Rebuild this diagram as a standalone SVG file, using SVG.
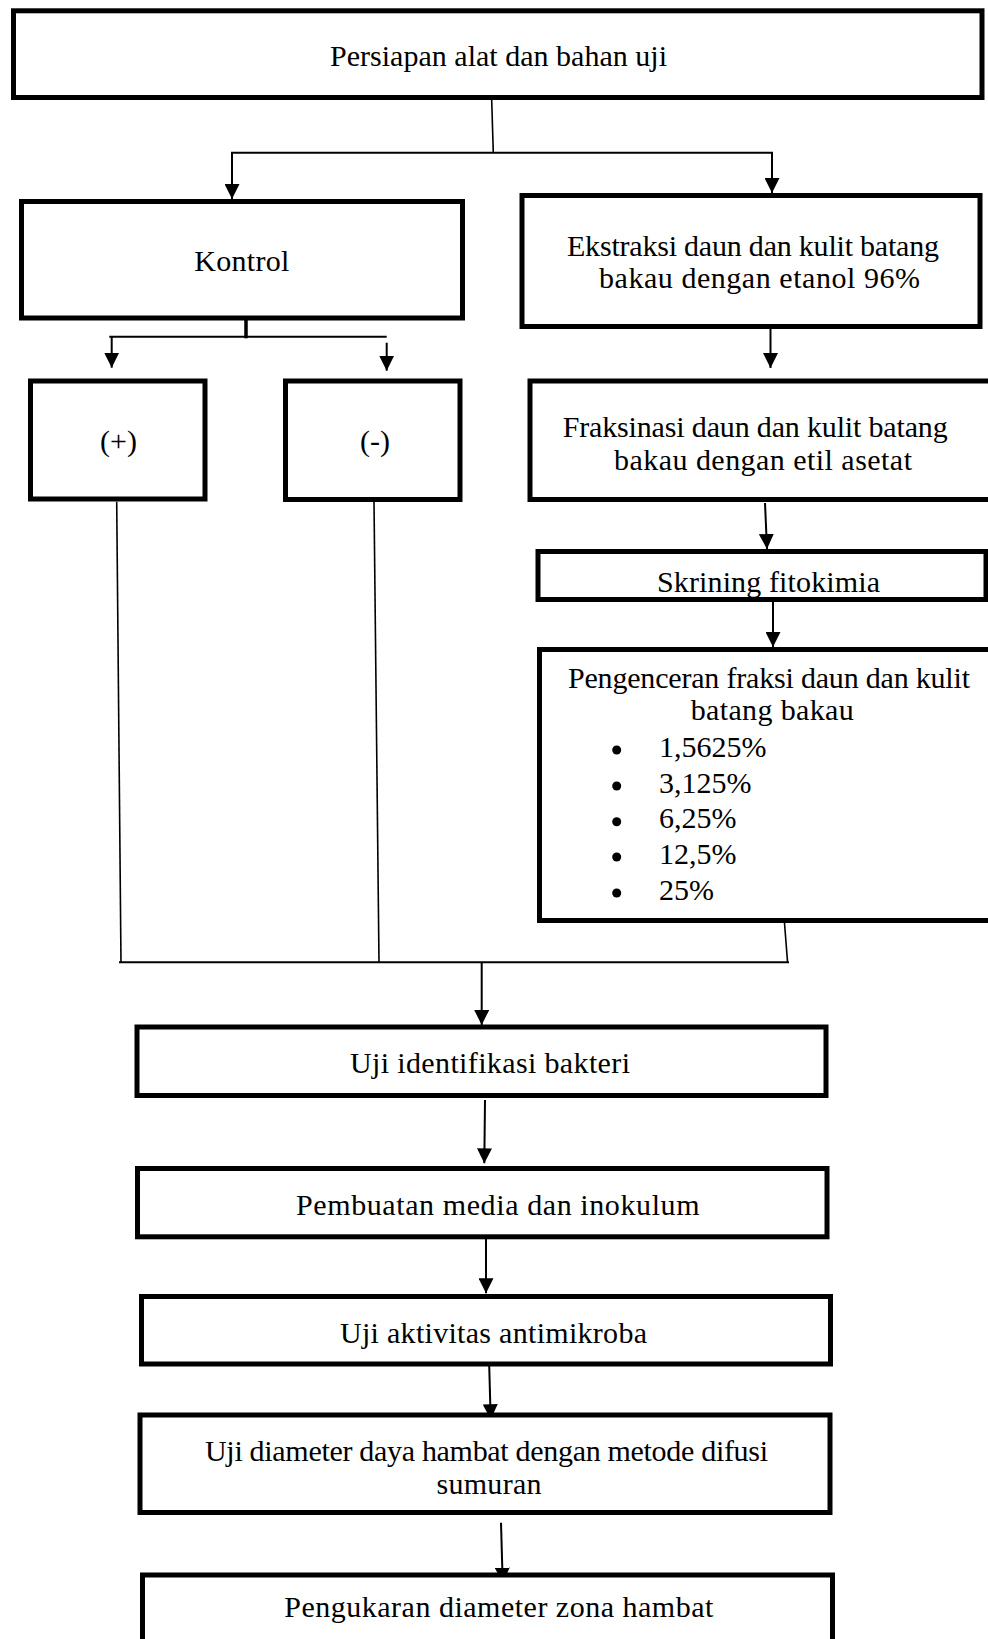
<svg xmlns="http://www.w3.org/2000/svg" width="988" height="1639" viewBox="0 0 988 1639">
<style>
.box{fill:#fff;stroke:#000;stroke-width:5}
.t{font-family:"Liberation Serif","Times New Roman",serif;font-size:30px;fill:#000}
.c{fill:none;stroke:#000;stroke-width:2}
.thin{fill:none;stroke:#000;stroke-width:1.6}
.arr{fill:none;stroke:#000;stroke-width:2;marker-end:url(#ah)}
</style>
<defs>
<marker id="ah" viewBox="0 0 15 15" markerWidth="15" markerHeight="15" refX="15" refY="7.5" orient="auto" markerUnits="userSpaceOnUse">
<path d="M0,0 L15,7.5 L0,15 z" fill="#000"/>
</marker>
</defs>
<rect width="988" height="1639" fill="#fff"/>

<g id="connectors">
<line class="thin" x1="491.7" y1="100" x2="493.3" y2="153"/>
<line class="c" x1="231" y1="152.7" x2="773" y2="152.7"/>
<line class="arr" x1="232" y1="152.7" x2="232" y2="199"/>
<line class="arr" x1="772" y1="152.7" x2="772" y2="193"/>
<line class="c" x1="246" y1="311" x2="246" y2="338.3" style="stroke-width:3.5"/>
<line class="c" x1="109.3" y1="336.7" x2="386.7" y2="336.7"/>
<line class="arr" x1="111.7" y1="336.7" x2="111.7" y2="367.7"/>
<line class="arr" x1="386.7" y1="342.7" x2="386.7" y2="370.7"/>
<line class="arr" x1="770.5" y1="318" x2="770.5" y2="368"/>
<line class="arr" x1="765" y1="503" x2="767" y2="549"/>
<line class="arr" x1="773" y1="602" x2="773" y2="647"/>
<line class="thin" x1="116.7" y1="501.7" x2="121" y2="962.3"/>
<line class="thin" x1="374" y1="501.7" x2="379" y2="962.3"/>
<line class="thin" x1="784.5" y1="923" x2="787.6" y2="962.7"/>
<line class="c" x1="119" y1="962.3" x2="789" y2="962.3"/>
<line class="arr" x1="481.7" y1="962.3" x2="481.7" y2="1025"/>
<line class="arr" x1="485" y1="1100" x2="484.3" y2="1163.3"/>
<line class="arr" x1="486" y1="1231" x2="486" y2="1293.3"/>
<line class="arr" x1="489" y1="1358.3" x2="490.7" y2="1419.3"/>
<line class="arr" x1="501" y1="1522.7" x2="502.7" y2="1582.7"/>
</g>

<g id="n-persiapan">
<rect class="box" x="13.5" y="10.8" width="968.5" height="86.7"/>
<text class="t" x="330" y="66" textLength="337">Persiapan alat dan bahan uji</text>
</g>

<g id="n-kontrol">
<rect class="box" x="21.5" y="201.5" width="441" height="116.5"/>
<text class="t" x="194.3" y="270.7" textLength="95">Kontrol</text>
</g>

<g id="n-ekstraksi">
<rect class="box" x="522" y="195.5" width="458" height="131"/>
<text class="t" x="567" y="256" textLength="372">Ekstraksi daun dan kulit batang</text>
<text class="t" x="599" y="288" textLength="321">bakau dengan etanol 96%</text>
</g>

<g id="n-plus">
<rect class="box" x="30.5" y="381" width="174.5" height="118"/>
<text class="t" x="100" y="451">(+)</text>
</g>

<g id="n-minus">
<rect class="box" x="285.5" y="381" width="174.5" height="118.5"/>
<text class="t" x="360" y="451">(-)</text>
</g>

<g id="n-fraksinasi">
<rect class="box" x="530" y="381" width="470" height="118.5"/>
<text class="t" x="562.7" y="436.7" textLength="385">Fraksinasi daun dan kulit batang</text>
<text class="t" x="614" y="470" textLength="298">bakau dengan etil asetat</text>
</g>

<g id="n-skrining">
<rect class="box" x="538" y="551.5" width="448" height="48"/>
<text class="t" x="657" y="592" textLength="223">Skrining fitokimia</text>
</g>

<g id="n-pengenceran">
<rect class="box" x="539.5" y="649.5" width="460" height="271"/>
<text class="t" x="568" y="688" textLength="402">Pengenceran fraksi daun dan kulit</text>
<text class="t" x="690.7" y="720" textLength="163">batang bakau</text>
<circle cx="616.7" cy="750" r="4.5"/>
<circle cx="616.7" cy="786" r="4.5"/>
<circle cx="616.7" cy="821.7" r="4.5"/>
<circle cx="616.7" cy="857" r="4.5"/>
<circle cx="616.7" cy="893" r="4.5"/>
<text class="t" x="659" y="756.7">1,5625%</text>
<text class="t" x="659" y="792.7">3,125%</text>
<text class="t" x="659" y="828">6,25%</text>
<text class="t" x="659" y="864">12,5%</text>
<text class="t" x="659" y="900">25%</text>
</g>

<g id="n-identifikasi">
<rect class="box" x="137" y="1027" width="689" height="68.5"/>
<text class="t" x="350" y="1072.7" textLength="280">Uji identifikasi bakteri</text>
</g>

<g id="n-pembuatan">
<rect class="box" x="137.5" y="1168.5" width="689.5" height="68.3"/>
<text class="t" x="296" y="1215" textLength="403.5">Pembuatan media dan inokulum</text>
</g>

<g id="n-aktivitas">
<rect class="box" x="141.5" y="1296.5" width="689" height="67.5"/>
<text class="t" x="340" y="1343.3" textLength="307">Uji aktivitas antimikroba</text>
</g>

<g id="n-diameter">
<rect class="box" x="140" y="1415" width="690" height="97.5"/>
<text class="t" x="205" y="1461" textLength="563">Uji diameter daya hambat dengan metode difusi</text>
<text class="t" x="436.5" y="1494.3" textLength="105">sumuran</text>
</g>

<g id="n-pengukaran">
<rect class="box" x="142.5" y="1575" width="690" height="80"/>
<text class="t" x="284.3" y="1616.7" textLength="429">Pengukaran diameter zona hambat</text>
</g>
</svg>
